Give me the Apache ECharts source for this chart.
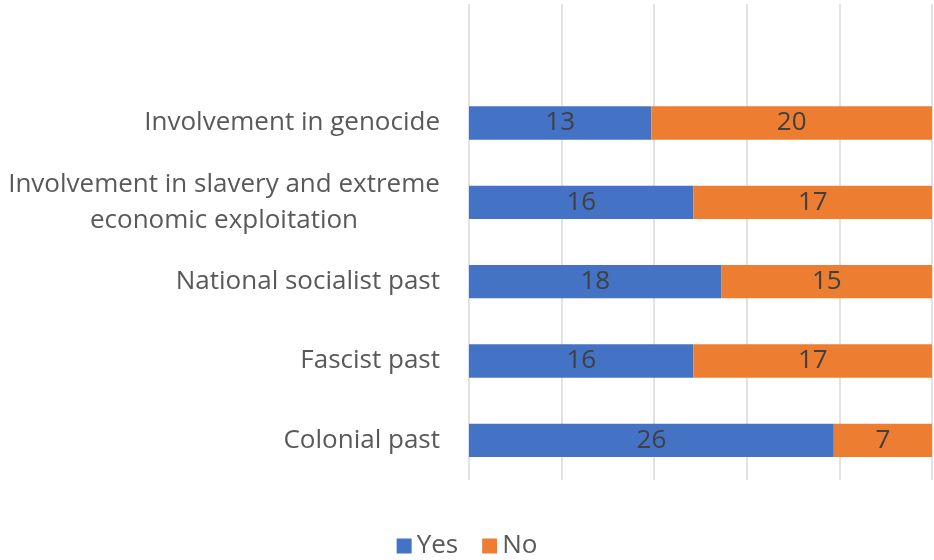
<!DOCTYPE html>
<html>
<head>
<meta charset="utf-8">
<script src="https://cdn.jsdelivr.net/npm/echarts@6/dist/echarts.min.js"></script>
<style>
  html, body { margin: 0; padding: 0; background: #fff; }
  #chart { width: 934px; height: 560px; }
</style>
</head>
<body>
<div id="chart"></div>
<script>
// Categories, bottom to top (the blank top row leaves headroom above the bars)
const categories = [
  'Colonial past',
  'Fascist past',
  'National socialist past',
  'Involvement in slavery and extreme\neconomic exploitation',
  'Involvement in genocide',
  ''
];
const yesValues = [26, 16, 18, 16, 13, null];
const noValues  = [7, 17, 15, 17, 20, null];
const axisMax = 33;

const FONT = 'Open Sans';
const FS = 26;
const chart = echarts.init(document.getElementById('chart'));

const labelStyle = {
  show: true,
  position: 'inside',
  color: '#404040',
  fontFamily: FONT,
  fontSize: FS
};

chart.setOption({
  animation: false,
  grid: { left: 469, right: 2, top: 4, bottom: 80, containLabel: false },
  legend: {
    data: ['Yes', 'No'],
    top: 533,
    left: 'center',
    padding: 0,
    itemWidth: 15,
    itemHeight: 15,
    itemGap: 24,
    icon: 'rect',
    textStyle: { color: '#595959', fontFamily: FONT, fontSize: FS }
  },
  xAxis: {
    type: 'value',
    min: 0,
    max: axisMax,
    interval: axisMax / 5,
    axisLabel: { show: false },
    axisLine: { show: false },
    axisTick: { show: false },
    splitLine: { show: true, lineStyle: { color: '#d9d9d9', width: 1.5 } }
  },
  yAxis: {
    type: 'category',
    data: categories,
    axisLine: { show: false },
    axisTick: { show: false },
    axisLabel: {
      margin: 29,
      color: '#595959',
      fontFamily: FONT,
      fontSize: FS,
      lineHeight: 36,
      formatter: function (v) {
        if (v.indexOf('\n') >= 0) {
          return v.split('\n').map(function (s) { return '{c|' + s + '}'; }).join('\n');
        }
        return v;
      },
      rich: {
        c: { width: 432, align: 'center', color: '#595959', fontFamily: FONT, fontSize: FS, lineHeight: 36 }
      }
    }
  },
  series: [
    {
      name: 'Yes',
      type: 'bar',
      stack: 'total',
      barWidth: '42%',
      itemStyle: { color: '#4472C4' },
      label: labelStyle,
      data: yesValues
    },
    {
      name: 'No',
      type: 'bar',
      stack: 'total',
      barWidth: '42%',
      itemStyle: { color: '#ED7D31' },
      label: labelStyle,
      data: noValues
    }
  ]
});
</script>
</body>
</html>
